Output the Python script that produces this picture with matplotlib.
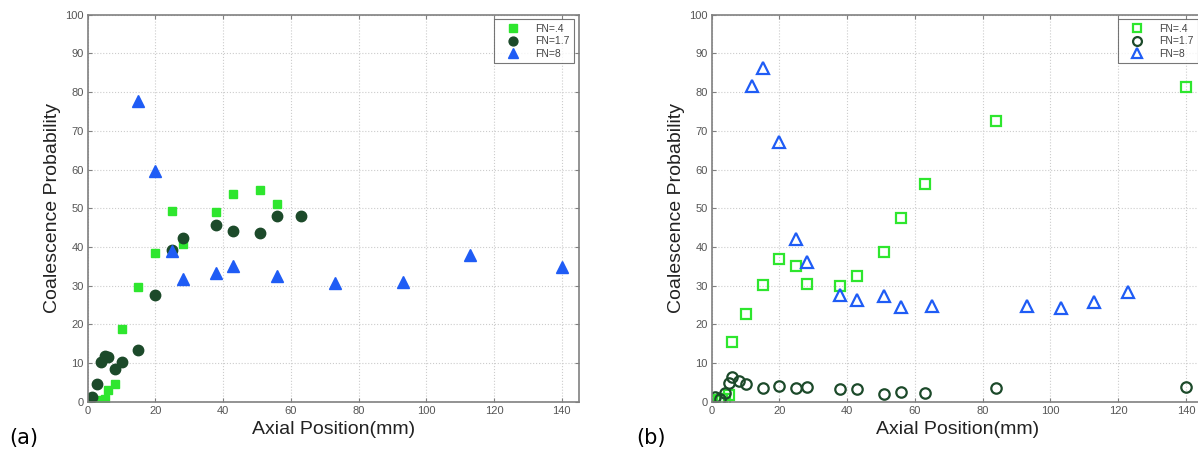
import matplotlib.pyplot as plt

# (a) filled markers
a_x_04 = [1, 2, 3, 4, 5, 6, 8, 10, 15, 20, 25, 28, 38, 43, 51, 56]
a_y_04 = [0.0, 0.0, 0.3, 0.5, 0.8, 2.9, 4.7, 18.7, 29.7, 38.3, 49.3, 40.7, 48.9, 53.8, 54.6, 51.0]
a_x_17 = [1.3, 2.7, 4, 5, 6, 8, 10, 15, 20, 25, 28, 38, 43, 51, 56, 63]
a_y_17 = [1.1, 4.6, 10.2, 11.8, 11.5, 8.4, 10.3, 13.4, 27.7, 39.2, 42.3, 45.6, 44.1, 43.7, 48.1, 48.1]
a_x_8 = [15, 20, 25, 28, 38, 43, 56, 73, 93, 113, 140]
a_y_8 = [77.7, 59.7, 39.0, 31.6, 33.2, 35.1, 32.6, 30.7, 30.9, 37.8, 34.9]

# (b) open markers
b_x_04 = [1, 2, 3, 4, 5, 6, 10, 15, 20, 25, 28, 38, 43, 51, 56, 63, 84, 140]
b_y_04 = [0.2, 0.4, 0.6, 0.8, 1.7, 15.5, 22.7, 30.1, 36.8, 35.1, 30.4, 30.0, 32.6, 38.8, 47.5, 56.2, 72.5, 81.4]
b_x_17 = [1, 2.5, 4, 5, 6, 8, 10, 15, 20, 25, 28, 38, 43, 51, 56, 63, 84, 140]
b_y_17 = [1.1, 0.6, 2.3, 4.9, 6.5, 5.4, 4.6, 3.6, 4.1, 3.6, 3.7, 3.3, 3.3, 2.0, 2.6, 2.3, 3.6, 3.9]
b_x_8 = [12, 15, 20, 25, 28, 38, 43, 51, 56, 65, 93, 103, 113, 123]
b_y_8 = [81.5, 86.3, 67.1, 42.0, 36.0, 27.5, 26.3, 27.2, 24.5, 24.7, 24.7, 24.3, 25.8, 28.3]

labels = ['FN=.4', 'FN=1.7', 'FN=8']
c_green = '#2ee62e'
c_dark = '#1c4a2a'
c_blue = '#1f5cf5'
c_frame = '#808080'
c_tick = '#555555'

plt.rcParams['font.family'] = ['Liberation Sans', 'DejaVu Sans']

fig = plt.figure(figsize=(11.98, 4.55), dpi=100)
ax1 = fig.add_axes([0.0732, 0.1171, 0.4099, 0.8506])
ax2 = fig.add_axes([0.5941, 0.1171, 0.4099, 0.8506])


def style_axes(ax):
    ax.set_xlim(0, 145)
    ax.set_ylim(0, 100)
    ax.set_xticks(range(0, 141, 20))
    ax.set_yticks(range(0, 101, 10))
    ax.grid(True, linestyle=':', color='#cccccc', linewidth=0.8)
    ax.set_axisbelow(True)
    ax.tick_params(direction='in', top=True, right=True, length=3,
                   labelsize=8, colors=c_frame, labelcolor=c_tick, pad=3)
    for s in ax.spines.values():
        s.set_color(c_frame)
        s.set_linewidth(1.2)
    ax.set_xlabel('Axial Position(mm)', fontsize=14, color='#222222', labelpad=4)
    ax.set_ylabel('Coalescence Probability', fontsize=14, color='#222222', labelpad=3)


ax1.plot(a_x_04, a_y_04, 's', color=c_green, ms=6, mec=c_green, label=labels[0])
ax1.plot(a_x_17, a_y_17, 'o', color=c_dark, ms=7.5, mec=c_dark, label=labels[1])
ax1.plot(a_x_8, a_y_8, '^', color=c_blue, ms=8, mec=c_blue, label=labels[2])
style_axes(ax1)

ax2.plot(b_x_04, b_y_04, 's', mfc='none', mec=c_green, mew=1.6, ms=6.5, label=labels[0])
ax2.plot(b_x_17, b_y_17, 'o', mfc='none', mec=c_dark, mew=1.6, ms=7.5, label=labels[1])
ax2.plot(b_x_8, b_y_8, '^', mfc='none', mec=c_blue, mew=1.6, ms=9, label=labels[2])
style_axes(ax2)

for ax in (ax1, ax2):
    leg = ax.legend(loc='upper right', fontsize=7.5, frameon=True, fancybox=False,
                    edgecolor='#555555', borderpad=0.4, handlelength=2.7,
                    handletextpad=0.85, labelspacing=0.25, borderaxespad=0.45,
                    markerscale=0.85)
    leg.get_frame().set_linewidth(0.8)
    for t in leg.get_texts():
        t.set_color('#444444')

fig.text(0.008, 0.025, '(a)', fontsize=15, family='DejaVu Sans')
fig.text(0.531, 0.025, '(b)', fontsize=15, family='DejaVu Sans')

fig.savefig('out.png', dpi=100)
